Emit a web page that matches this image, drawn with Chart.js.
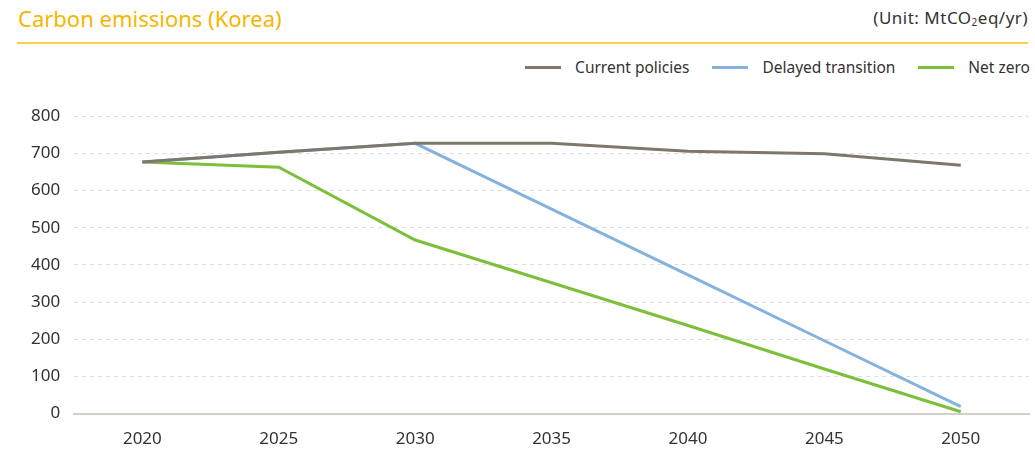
<!DOCTYPE html>
<html>
<head>
<meta charset="utf-8">
<script src="https://cdn.jsdelivr.net/npm/chart.js@4.4.0/dist/chart.umd.min.js"></script>
<style>
  body { margin: 0; background: #fff; font-family: "Noto Sans", sans-serif; overflow: hidden; }
  .head {
    position: absolute; left: 17px; top: 0; width: 1011px; height: 42px;
    border-bottom: 2px solid #fdd042;
  }
  .title { position: absolute; left: 1px; top: 3px; font-size: 22px; color: #f7b500; }
  .unit { position: absolute; right: 0; top: 6px; font-size: 17px; letter-spacing: 0.5px; color: #333; }
  .unit sub { font-size: 10px; vertical-align: -2px; }
  .legend {
    position: absolute; right: 5px; top: 56px; display: flex; align-items: center;
    font-size: 15.5px; color: #333;
  }
  .legend .item { display: flex; align-items: center; margin-left: 23px; }
  .legend .swatch { width: 36px; height: 3px; margin-right: 14px; }
  .wrap { position: absolute; left: 0; top: 92px; width: 1035px; height: 366px; }
</style>
</head>
<body>
<div class="head">
  <div class="title">Carbon emissions (Korea)</div>
  <div class="unit">(Unit: MtCO<sub>2</sub>eq/yr)</div>
</div>
<div class="legend" id="legend"></div>
<div class="wrap"><canvas id="chart"></canvas></div>
<script>
const years = ["2020", "2025", "2030", "2035", "2040", "2045", "2050"];
const currentPolicies = [677, 703, 727, 727, 706, 699, 668];
const delayedTransition = [677, 703, 727, 550, 373, 196, 19];
const netZero = [677, 663, 467, 352, 237, 120, 5];

const ctx = document.getElementById("chart").getContext("2d");

const chart = new Chart(ctx, {
  type: "line",
  data: {
    labels: years,
    datasets: [
      { label: "Current policies", data: currentPolicies, borderColor: "#7f776b", backgroundColor: "#7f776b" },
      { label: "Delayed transition", data: delayedTransition, borderColor: "#86b2de", backgroundColor: "#86b2de" },
      { label: "Net zero", data: netZero, borderColor: "#7cbf3a", backgroundColor: "#7cbf3a" },
    ],
  },
  options: {
    responsive: true,
    maintainAspectRatio: false,
    animation: false,
    layout: { padding: { left: 17, right: 6, top: 10, bottom: 2 } },
    elements: {
      line: { borderWidth: 3, tension: 0 },
      point: { radius: 0 },
    },
    plugins: {
      tooltip: { enabled: false },
      legend: { display: false },
    },
    scales: {
      x: {
        offset: true,
        grid: { display: false },
        border: { display: true, color: "#d3cec9", width: 2 },
        ticks: { color: "#333", padding: 7, font: { family: "Noto Sans", size: 17 } },
      },
      y: {
        min: 0,
        max: 800,
        ticks: { stepSize: 100, color: "#333", padding: 14, font: { family: "Noto Sans", size: 17 } },
        grid: { color: "#dedede", drawTicks: false },
        border: { display: false, dash: [4, 4] },
      },
    },
  },
});

// legend built from the datasets
const legend = document.getElementById("legend");
chart.data.datasets.forEach(function (ds) {
  const item = document.createElement("div");
  item.className = "item";
  const swatch = document.createElement("span");
  swatch.className = "swatch";
  swatch.style.background = ds.borderColor;
  item.appendChild(swatch);
  item.appendChild(document.createTextNode(ds.label));
  legend.appendChild(item);
});
</script>
</body>
</html>
